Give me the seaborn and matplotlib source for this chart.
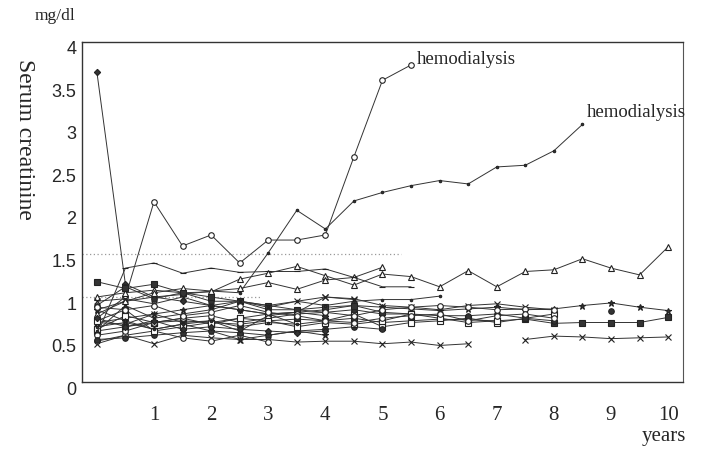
import numpy as np
import pandas as pd
import matplotlib
matplotlib.use('Agg')
import matplotlib.pyplot as plt
import matplotlib.transforms as mtransforms
import seaborn as sns

sns.set_style('white')
plt.rcParams['font.family'] = ['Liberation Serif', 'DejaVu Serif']

# years of follow-up, every half year
years = [i * 0.5 for i in range(21)]

# serum creatinine (mg/dl) per patient, starting at year 0
pat_dia1 = [0.75, 1.00, 2.12, 1.60, 1.73, 1.40, 1.67, 1.67, 1.73, 2.65, 3.55, 3.73]
pat_dia2 = [0.85, 0.95, 1.00, 1.03, 1.07, 1.05, 1.52, 2.02, 1.80, 2.13, 2.23, 2.31,
            2.37, 2.33, 2.53, 2.55, 2.72, 3.03]
pat_diamond = [3.65, 1.15, 1.00, 0.95, 0.90, 0.85, 0.80, 0.82, 0.78]
pat_tri_long = [1.00, 1.05, 1.08, 1.05, 1.06, 1.21, 1.28, 1.36, 1.25, 1.14, 1.27, 1.24,
                1.12, 1.31, 1.12, 1.30, 1.32, 1.45, 1.34, 1.26, 1.59]
pat_tri_b = [0.80, 0.95, 1.05, 1.10, 1.07, 1.10, 1.17, 1.09, 1.20, 1.23, 1.35]
pat_dash = [0.55, 1.34, 1.40, 1.28, 1.34, 1.29, 1.30, 1.30, 1.33, 1.23, 1.12, 1.12]
pat_x_low = [0.45, 0.55, 0.45, 0.55, 0.52, 0.50, 0.50, 0.47, 0.48, 0.48, 0.45, 0.47, 0.43, 0.45]
pat_x_late = [None] * 15 + [0.50, 0.54, 0.53, 0.51, 0.52, 0.53]
pat_star_long = [0.70, 0.75, 0.80, 0.85, 0.90, 0.85, 0.80, 0.82, 0.85, 0.90, 0.88, 0.86,
                 0.84, 0.86, 0.88, 0.85, 0.86, 0.90, 0.93, 0.88, 0.84]
pat_sq_long = [0.60, 0.65, 0.70, 0.72, 0.70, 0.68, 0.72, 0.74, 0.72, 0.75, 0.70, 0.72,
               0.74, 0.73, 0.72, 0.74, 0.69, 0.70, 0.70, 0.70, 0.76]
pat_c1 = [0.48, 0.55, 0.60, 0.52, 0.48, 0.55, 0.47]
pat_c2 = [0.62, 0.78, 0.70, 0.75, 0.68, 0.75, 0.80, 0.68, 0.72, 0.80, 0.65, 0.70, 0.72,
          0.75, 0.70, 0.75, 0.80]
pat_c3 = [0.90, 1.12, 0.98, 1.05, 0.95, 0.95, 0.85, 0.85, 0.82, 0.85, 0.80, 0.80, 0.78,
          0.78, 0.80, 0.75, 0.72]
pat_c4 = [0.70, 0.68, 0.80, 0.70, 0.72, 0.60, 0.78, 0.82, 1.00, 0.98, 0.90, 0.88, 0.85,
          0.90, 0.92, 0.88, 0.85]
pat_c5 = [0.85, 0.72, 0.62, 0.68, 0.60, 0.50, 0.55, 0.60, 0.55]
pat_c6 = [1.18, 1.10, 1.15, 1.05, 1.00, 0.95, 0.90, 0.85, 0.88, 0.90, 0.82, 0.80]
pat_c7 = [0.55, 0.60, 0.70, 0.75, 0.78, 0.70, 0.75, 0.80, 0.82, 0.78, 0.85, 0.88, 0.90,
          0.88, 0.85, 0.86, 0.85]
pat_c7_late = [None] * 18 + [0.83]
pat_c9 = [0.60, 0.90, 0.75, 0.80, 0.85, 0.95, 0.90, 0.95, 0.90, 0.95, 0.97, 0.97, 1.01]
pat_c10 = [0.50, 0.52, 0.55, 0.58, 0.60, 0.58, 0.55, 0.60, 0.62, 0.65, 0.62]
pat_c11 = [0.72, 0.85, 0.60, 0.65, 0.70, 0.75, 0.72, 0.65, 0.70, 0.68, 0.72, 0.80, 0.75,
           0.70, 0.72]
pat_c12 = [0.95, 0.98, 0.92, 1.00, 0.90, 0.95, 0.88, 0.95, 1.00, 0.97]
pat_c13 = [0.65, 0.70, 0.62, 0.68, 0.72, 0.65, 0.70, 0.68]
pat_c14 = [0.75, 0.65, 0.72, 0.62, 0.65, 0.62, 0.60, 0.58, 0.60]
pat_c15 = [0.88, 0.85, 0.90, 0.78, 0.82, 0.90, 0.82, 0.78, 0.72, 0.70, 0.75, 0.78, 0.80,
           0.72, 0.78, 0.80, 0.75]

# (values, marker, filled)
patients = [
    (pat_dia1, 'o', False), (pat_dia2, '.', True), (pat_diamond, 'D', True),
    (pat_tri_long, '^', False), (pat_tri_b, '^', False), (pat_dash, '_', True),
    (pat_x_low, 'x', True), (pat_x_late, 'x', True), (pat_star_long, '*', True),
    (pat_sq_long, 's', True), (pat_c1, 'o', False), (pat_c2, 's', False),
    (pat_c3, 'o', True), (pat_c4, 'x', True), (pat_c5, '*', True),
    (pat_c6, 's', True), (pat_c7, 'o', False), (pat_c7_late, 'o', True),
    (pat_c9, '.', True), (pat_c10, 'o', True), (pat_c11, 's', False),
    (pat_c12, 'x', True), (pat_c13, '.', True), (pat_c14, 'D', True),
    (pat_c15, 'o', False),
]

fig = plt.figure(figsize=(7.08, 4.5), dpi=100)
ax = fig.add_axes([0.1158, 0.1511, 0.8489, 0.7556])

ax.axhline(1.5, xmin=0, xmax=0.53, color='#999999', lw=0.9, ls=(0, (1, 2)), zorder=0)
ax.axhline(1.0, xmin=0, xmax=0.3, color='#999999', lw=0.9, ls=(0, (1, 2)), zorder=0)

for vals, mk, filled in patients:
    df = pd.DataFrame({'year': years[:len(vals)], 'scr': vals}).dropna()
    size = 4
    if mk == 'D':
        size = 3.2
    if mk == '.':
        size = 3.5
    if mk in ('x', '*', '_'):
        size = 5
    sns.lineplot(data=df, x='year', y='scr', ax=ax, color='#333333', lw=0.7,
                 marker=mk, markersize=size, markeredgewidth=0.8,
                 markeredgecolor='#222222',
                 markerfacecolor='#333333' if filled else 'white',
                 estimator=None, sort=False, legend=False)

ax.text(5.6, 3.79, 'hemodialysis', fontsize=13.5, va='center', ha='left')
ax.text(8.58, 3.17, 'hemodialysis', fontsize=13.5, va='center', ha='left', clip_on=False)

ax.set_xlim(-0.26, 10.26)
ax.set_ylim(0, 3.97)
ax.set_xticks(range(1, 11))
ax.set_xticklabels([str(i) for i in range(1, 11)], fontsize=15)
ax.set_yticks([0, 0.5, 1, 1.5, 2, 2.5, 3, 3.5, 4])
ax.set_yticklabels(['0', '0.5', '1', '1.5', '2', '2.5', '3', '3.5', '4'],
                   fontsize=13, family=['Liberation Sans', 'DejaVu Sans'])
ax.tick_params(axis='x', length=0, pad=17)
ax.tick_params(axis='y', direction='in', length=2, pad=4, color='#777777')
# the printed labels sit a little below their ticks
shift = mtransforms.ScaledTranslation(0, -6 / 100, fig.dpi_scale_trans)
for lab in ax.get_yticklabels():
    lab.set_transform(lab.get_transform() + shift)
ax.set_xlabel('')
ax.set_ylabel('')
for side in ['left', 'bottom', 'top']:
    ax.spines[side].set_color('#333333')
    ax.spines[side].set_linewidth(1.0)
ax.spines['right'].set_color('#555555')
ax.spines['right'].set_linewidth(0.8)

fig.text(0.035, 0.691, 'Serum creatinine', rotation=270, fontsize=17,
         va='center', ha='center')
fig.text(0.049, 0.965, 'mg/dl', fontsize=12.5, va='center', ha='left')
fig.text(0.906, 0.029, 'years', fontsize=15, va='center', ha='left')

fig.savefig('out.png', dpi=100)
